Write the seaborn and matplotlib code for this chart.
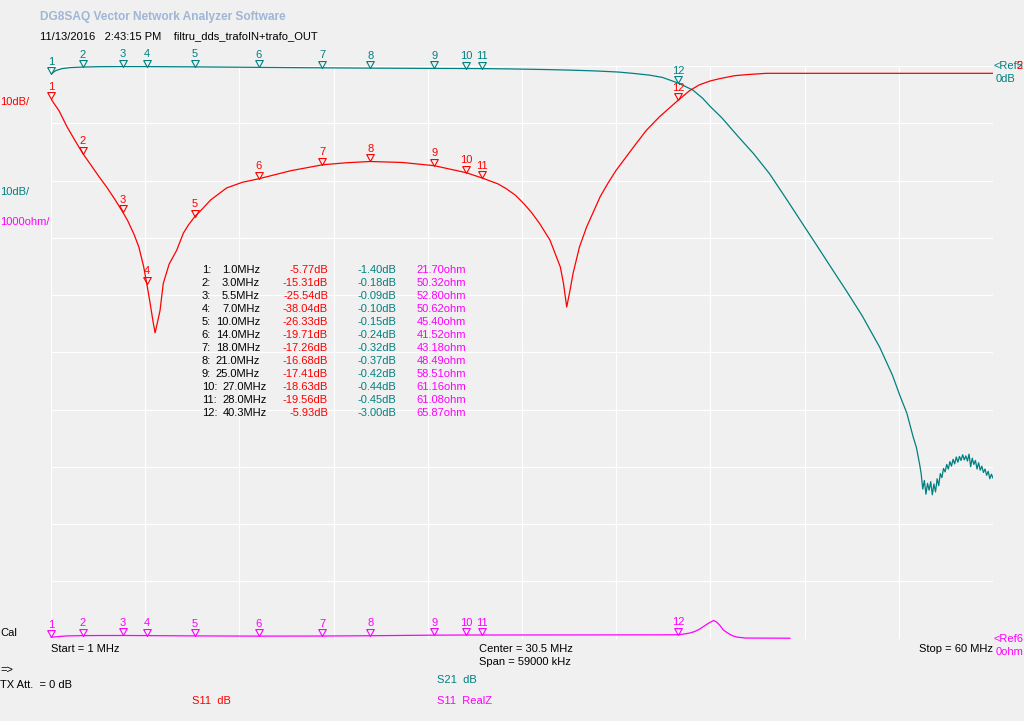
import numpy as np
import seaborn as sns
from matplotlib import pyplot as plt
from matplotlib.path import Path

# marker table (frequency in MHz, S11 dB, S21 dB, S11 real part in ohm)
mk_freq = [1.0, 3.0, 5.5, 7.0, 10.0, 14.0, 18.0, 21.0, 25.0, 27.0, 28.0, 40.3]
mk_s11 = [-5.77, -15.31, -25.54, -38.04, -26.33, -19.71, -17.26, -16.68, -17.41, -18.63, -19.56, -5.93]
mk_s21 = [-1.40, -0.18, -0.09, -0.10, -0.15, -0.24, -0.32, -0.37, -0.42, -0.44, -0.45, -3.00]
mk_rz = [21.70, 50.32, 52.80, 50.62, 45.40, 41.52, 43.18, 48.49, 58.51, 61.16, 61.08, 65.87]

# S11 dB trace
s11_f = [1.0, 1.5, 2.0, 2.5, 3.0, 3.5, 4.0, 4.5, 5.0, 5.5, 5.8, 6.2, 6.5, 6.8, 7.0, 7.2, 7.4,
         7.52, 7.65, 7.83, 8.03, 8.4, 8.87, 9.29, 9.6, 10.0, 10.5, 11.0, 12.0, 13.0, 14.0,
         16.0, 18.0, 19.5, 21.0, 23.0, 25.0, 27.0, 28.0, 29.0, 29.5, 30.1, 30.6, 31.1, 31.6,
         32.25, 32.9, 33.1, 33.3, 33.5, 33.7, 34.1, 34.55, 35.0, 35.4, 35.9, 36.4, 37.5,
         38.3, 39.1, 40.3, 41.0, 41.6, 42.3, 42.9, 43.8, 44.6, 45.8, 60.0]
s11_db = [-5.77, -7.8, -10.6, -13.0, -15.31, -17.3, -19.3, -21.2, -23.3, -25.54, -27.0, -29.4,
          -31.6, -35.0, -38.04, -41.3, -44.8, -46.6, -45.0, -42.7, -38.0, -34.6, -32.2, -29.2,
          -27.8, -26.33, -24.9, -23.4, -21.3, -20.3, -19.71, -18.3, -17.26, -16.9, -16.68,
          -16.85, -17.41, -18.63, -19.56, -20.6, -21.4, -22.6, -24.0, -25.6, -27.5, -30.4,
          -35.1, -38.0, -42.1, -39.3, -36.2, -31.6, -28.1, -25.3, -22.8, -20.4, -18.2, -14.1,
          -11.2, -8.9, -5.93, -4.3, -3.3, -2.6, -2.2, -1.7, -1.5, -1.28, -1.28]

# S21 dB trace
s21_f = [1.0, 1.3, 1.7, 2.2, 3.0, 4.0, 5.5, 7.0, 10.0, 14.0, 18.0, 21.0, 25.0, 27.0, 28.0,
         30.0, 32.0, 33.5, 35.0, 36.5, 37.5, 38.5, 39.3, 40.3, 41.2, 41.8, 42.3, 43.0, 44.0,
         45.0, 46.0, 47.1, 48.2, 49.0, 50.0, 50.8, 51.8, 52.9, 53.7, 54.2, 54.6, 55.0, 55.2,
         55.4, 55.5,
         55.6, 55.7, 55.8, 55.9, 56.0, 56.1, 56.2, 56.3, 56.4, 56.5, 56.6, 56.7, 56.8, 56.9,
         57.0, 57.1, 57.2, 57.3, 57.4, 57.5, 57.6, 57.7, 57.8, 57.9, 58.0, 58.1, 58.2, 58.3,
         58.4, 58.5, 58.6, 58.7, 58.8, 58.9, 59.0, 59.1, 59.2, 59.3, 59.4, 59.5, 59.6, 59.7,
         59.8, 59.9, 60.0]
s21_db = [-1.40, -0.80, -0.45, -0.28, -0.18, -0.12, -0.09, -0.10, -0.15, -0.24, -0.32, -0.37,
          -0.42, -0.44, -0.45, -0.52, -0.62, -0.72, -0.85, -1.05, -1.3, -1.6, -2.0, -3.00,
          -4.2, -5.6, -7.1, -9.0, -12.2, -15.3, -18.8, -23.4, -28.1, -31.5, -35.8, -39.2,
          -43.6, -49.1, -54.0, -57.8, -60.6, -64.8, -66.6, -69.5, -71.2,
          -73.9, -72.4, -74.8, -72.9, -74.1, -72.6, -74.9, -73.0, -74.4, -72.1, -73.3, -71.2,
          -71.9, -70.3, -70.9, -69.6, -70.4, -69.1, -69.9, -68.7, -69.5, -68.3, -69.2, -68.2,
          -68.9, -67.9, -68.8, -68.1, -69.0, -67.8, -70.0, -68.5, -69.6, -68.9, -70.4, -69.3,
          -70.6, -69.9, -71.0, -70.4, -71.5, -70.8, -72.1, -71.3, -72.0]

# S11 real Z trace (ohm)
rz_f = [1.0, 1.5, 2.0, 3.0, 4.0, 5.5, 7.0, 10.0, 14.0, 18.0, 21.0, 25.0, 27.0, 28.0, 32.0,
        36.0, 39.0, 40.3, 40.7, 41.0, 41.3, 41.6, 41.9, 42.2, 42.5, 42.7, 42.9, 43.1, 43.3,
        43.5, 43.7, 44.0, 44.5, 47.3]
rz_ohm = [21.7, 35, 45, 50.32, 52, 52.8, 50.62, 45.4, 41.52, 43.18, 48.49, 58.51, 61.16,
          61.08, 62, 63, 64, 65.87, 80, 95, 120, 160, 215, 270, 315, 285, 227, 152, 111,
          76, 47, 23, 8, 5]

RED = '#ff0000'
TEAL = '#008080'
MAG = '#ff00ff'
BG = '#f0f0f0'

sns.set_style('whitegrid', {'axes.facecolor': BG, 'figure.facecolor': BG,
                            'grid.color': 'white', 'axes.edgecolor': BG})
plt.rcParams['font.family'] = ['Liberation Sans', 'DejaVu Sans']

W, H = 1024, 721
fig = plt.figure(figsize=(W / 100, H / 100), dpi=100)
fig.patch.set_facecolor(BG)
ax = fig.add_axes([51 / W, 1 - 638.5 / H, 942 / W, 572.5 / H])
ax.set_xlim(1, 60)
ax.set_ylim(-100, 0)
ax.set_xticks(np.linspace(1, 60, 11))
ax.set_yticks(np.arange(-100, 1, 10))
ax.grid(True, color='white', lw=0.9)
ax.tick_params(length=0, labelbottom=False, labelleft=False)
for s in ax.spines.values():
    s.set_visible(False)
ax.set_xlabel('')
ax.set_ylabel('')

sns.lineplot(x=s21_f, y=s21_db, ax=ax, color=TEAL, lw=0.9, estimator=None, sort=False)
sns.lineplot(x=s11_f, y=s11_db, ax=ax, color=RED, lw=0.9, estimator=None, sort=False)

ax2 = ax.twinx()
ax2.set_ylim(0, 10000)
ax2.grid(False)
ax2.set_yticks([])
for s in ax2.spines.values():
    s.set_visible(False)
ax2.set_ylabel('')
sns.lineplot(x=rz_f, y=rz_ohm, ax=ax2, color=MAG, lw=0.9, estimator=None, sort=False)
for ln in ax2.get_lines():
    ln.set_clip_on(False)

# down-pointing triangle with its tip on the trace
tri = Path([(-0.55, 1.0), (0.55, 1.0), (0.0, 0.0), (-0.55, 1.0)])


def markers(a, vals, color):
    a.plot(mk_freq, vals, ls='none', marker=tri, ms=10, mfc='none', mec=color,
           mew=0.8, clip_on=False, zorder=5)
    for i, (f, v) in enumerate(zip(mk_freq, vals)):
        a.annotate(str(i + 1), (f, v), xytext=(0, 5.3), textcoords='offset points',
                   ha='center', va='bottom', color=color, fontsize=8, zorder=6)


markers(ax, mk_s21, TEAL)
markers(ax, mk_s11, RED)
markers(ax2, mk_rz, MAG)


def put(x, y, s, color='black', size=8, **kw):
    fig.text(x / W, 1 - y / H, s, color=color, va='center', fontsize=size, **kw)


put(40, 17, 'DG8SAQ Vector Network Analyzer Software', '#9fb6d6', size=8.6, weight='bold')
put(40, 36, '11/13/2016   2:43:15 PM    filtru_dds_trafoIN+trafo_OUT')
put(0, 102, '10dB/', RED)
put(0, 192, '10dB/', TEAL)
put(0, 222, '1000ohm/', MAG)
put(0, 633, 'Cal')
put(993, 66, '<Ref5', TEAL)
put(1023, 66, '2', RED, ha='right')
put(996, 79, '0dB', TEAL)
put(993, 639, '<Ref6', MAG)
put(996, 652, '0ohm', MAG)
put(51, 649, 'Start = 1 MHz')
put(479, 649, 'Center = 30.5 MHz')
put(479, 662, 'Span = 59000 kHz')
put(993, 649, 'Stop = 60 MHz', ha='right')
put(0, 670, '=>')
put(0, 685, 'TX Att.  = 0 dB')
put(437, 680, 'S21  dB', TEAL)
put(192, 701, 'S11  dB', RED)
put(437, 701, 'S11  RealZ', MAG)

# marker readout table
for i in range(len(mk_freq)):
    y = 270 + 12.97 * i
    put(201.7, y, f'{i + 1}:')
    put(260 if i < 9 else 267, y, f'{mk_freq[i]:.1f}MHz', ha='right')
    put(328, y, f'{mk_s11[i]:.2f}dB', RED, ha='right')
    put(396, y, f'{mk_s21[i]:.2f}dB', TEAL, ha='right')
    put(466, y, f'{mk_rz[i]:.2f}ohm', MAG, ha='right')

fig.savefig('out.png', dpi=100, facecolor=BG)
